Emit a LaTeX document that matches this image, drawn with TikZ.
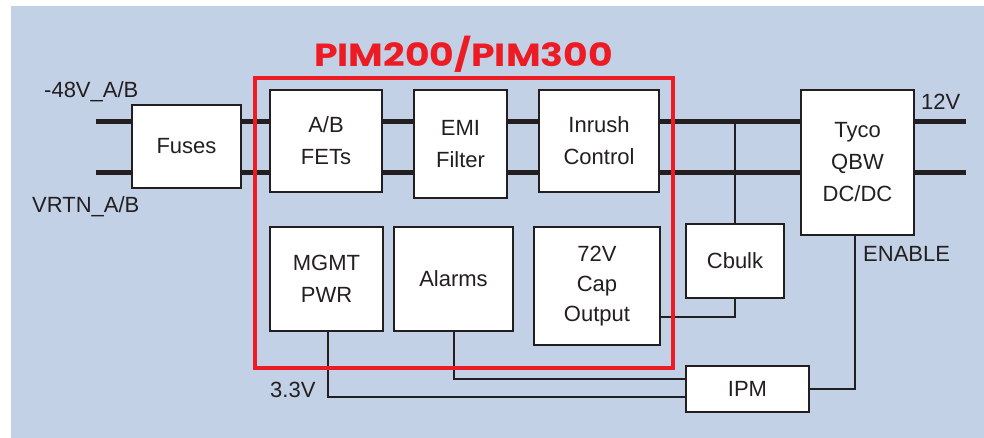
\documentclass[tikz,border=0pt]{standalone}
\usepackage{fontspec}
\setmainfont{Liberation Sans}
\newfontfamily\titlefont{Poppins}
\definecolor{bgblue}{HTML}{C3D1E6}
\definecolor{pimred}{HTML}{ED1C24}
\definecolor{ink}{HTML}{231F20}
\begin{document}
\begin{tikzpicture}[x=1pt,y=-1pt,
  blk/.style={draw=ink,fill=white,line width=1.6pt,inner sep=0pt,align=center,
    text=ink,font=\fontsize{22}{32}\selectfont},
  bus/.style={draw=ink,line width=5pt},
  wire/.style={draw=ink,line width=2pt},
  lbl/.style={inner sep=0pt,text=ink,font=\fontsize{22}{26}\selectfont},
]
\useasboundingbox (0,0) rectangle (984,438);
\fill[bgblue] (11,6) rectangle (984,438);

% blocks
\node[blk,minimum width=109pt,minimum height=83pt] (fuses) at (186.5,146.5) {Fuses};
\node[blk,minimum width=112pt,minimum height=102pt] (fets) at (326,141) {A/B\\FETs};
\node[blk,minimum width=93pt,minimum height=108pt] (emi) at (460.5,144) {EMI\\Filter};
\node[blk,minimum width=120pt,minimum height=102pt] (inrush) at (599,141) {Inrush\\Control};
\node[blk,minimum width=113pt,minimum height=145pt] (tyco) at (857.5,162.5) {Tyco\\QBW\\DC/DC};
\node[blk,minimum width=113pt,minimum height=104pt] (mgmt) at (326.5,279) {MGMT\\PWR};
\node[blk,minimum width=119pt,minimum height=104pt] (alarms) at (453.5,279) {Alarms};
\node[blk,minimum width=126pt,minimum height=118pt,font=\fontsize{22}{30}\selectfont] (cap) at (597,286) {72V\\Cap\\Output};
\node[blk,minimum width=98pt,minimum height=74pt] (cbulk) at (735,261) {Cbulk};
\node[blk,minimum width=123pt,minimum height=46pt] (ipm) at (747.5,389) {IPM};

% bus end coordinates
\coordinate (inT) at (96,122);
\coordinate (inB) at (96,173);
\coordinate (outT) at (966,122);
\coordinate (outB) at (966,173);

% buses
\foreach \a/\b in {inT/fuses,inB/fuses}{
  \draw[bus] (\a) -- (\b.west |- \a);
}
\foreach \c in {inT,inB}{
  \draw[bus] (fuses.east |- \c) -- (fets.west |- \c);
  \draw[bus] (fets.east |- \c) -- (emi.west |- \c);
  \draw[bus] (emi.east |- \c) -- (inrush.west |- \c);
  \draw[bus] (inrush.east |- \c) -- (tyco.west |- \c);
}
\draw[bus] (tyco.east |- outT) -- (outT);
\draw[bus] (tyco.east |- outB) -- (outB);

% wires
\draw[wire] (cbulk.north) -- (cbulk.north |- inT);
\draw[wire] (cbulk.south) |- ([yshift=-31pt]cap.east);
\draw[wire] ([xshift=1.5pt]mgmt.south) |- ([yshift=-8pt]ipm.west);
\draw[wire] (alarms.south) |- ([yshift=10pt]ipm.west);
\draw[wire] (ipm.east) -| ([xshift=-2.5pt]tyco.south);

% PIM red frame
\draw[pimred,line width=4pt] (255,78) rectangle (673,368);
\node[inner sep=0pt,text=pimred,font=\titlefont\bfseries\fontsize{32}{36}\selectfont] (title) at (463.5,54) {\scalebox{1.18}[1]{PIM200/PIM300}};

% labels
\node[lbl,anchor=base west] (l48) at (44,98) {-48V\_A/B};
\node[lbl,anchor=base west] (lvrtn) at (32,213) {VRTN\_A/B};
\node[lbl,anchor=base west] (l12) at (921,110) {12V};
\node[lbl,anchor=base west] (len) at (863,261) {ENABLE};
\node[lbl,anchor=base west] (l33) at (270,397) {3.3V};
\end{tikzpicture}
\end{document}
